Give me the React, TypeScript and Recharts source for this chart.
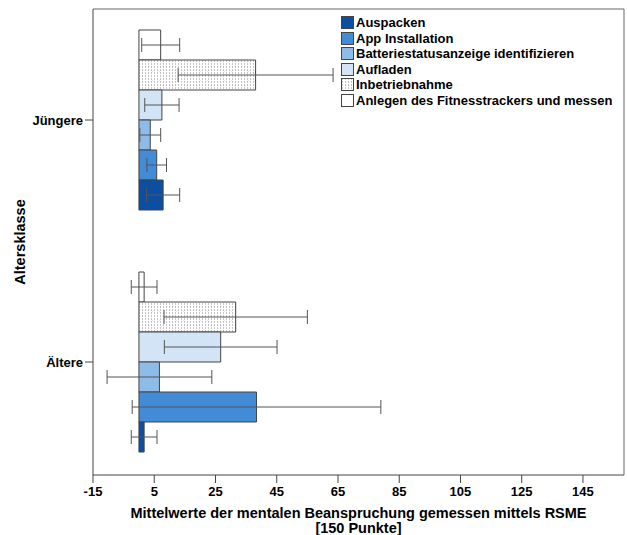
import React from 'react';
import { BarChart, Bar, XAxis, YAxis, ErrorBar, Legend, Label } from 'recharts';

const categories = ['Jüngere', 'Ältere'];
const seriesNames = [
  'Auspacken',
  'App Installation',
  'Batteriestatusanzeige identifizieren',
  'Aufladen',
  'Inbetriebnahme',
  'Anlegen des Fitnesstrackers und messen',
];
const seriesKeys = ['auspacken', 'app', 'batterie', 'aufladen', 'inbetrieb', 'anlegen'];

// means per category (Jüngere, Ältere)
const auspacken = [7.9, 1.7];
const appInstallation = [5.8, 38.4];
const batterie = [3.7, 6.7];
const aufladen = [7.5, 26.7];
const inbetriebnahme = [38.1, 31.6];
const anlegen = [7.1, 1.7];

// error half-widths
const auspackenErr = [5.4, 4.2];
const appInstallationErr = [3.2, 40.6];
const batterieErr = [3.4, 17.1];
const aufladenErr = [5.6, 18.4];
const inbetriebnahmeErr = [25.3, 23.4];
const anlegenErr = [6.2, 4.2];

const xTicks = [-15, 5, 25, 45, 65, 85, 105, 125, 145];
const xDomain = [-15, 158.4];

const seriesValues = [auspacken, appInstallation, batterie, aufladen, inbetriebnahme, anlegen];
const seriesErrors = [auspackenErr, appInstallationErr, batterieErr, aufladenErr, inbetriebnahmeErr, anlegenErr];
const seriesFills = ['#0B4EA2', '#428BD6', '#8FBBE8', '#D3E4F7', 'url(#dotsPattern)', '#FFFFFF'];

const data = categories.map((c, i) => {
  const row: any = { group: c };
  seriesKeys.forEach((k, s) => {
    row[k] = seriesValues[s][i];
    row[k + 'Err'] = seriesErrors[s][i];
  });
  return row;
});

const FONT = '"Liberation Sans", Arial, sans-serif';
const tickStyle = { fontFamily: FONT, fontWeight: 700, fontSize: 13, fill: '#000' };
const AXIS = '#444';

const renderYTitle = (props: any) => {
  const vb = props.viewBox || { x: 0, y: 9, width: 93, height: 466 };
  const x = vb.x + 20;
  const y = vb.y + vb.height / 2;
  return (
    <text
      x={x}
      y={y}
      transform={`rotate(-90 ${x} ${y})`}
      textAnchor="middle"
      dominantBaseline="central"
      style={{ fontFamily: FONT, fontWeight: 700, fontSize: 14.5, fill: '#000' }}
    >
      Altersklasse
    </text>
  );
};

const renderXTitle = (props: any) => {
  const vb = props.viewBox || { x: 93, y: 475, width: 531, height: 60 };
  const x = vb.x + vb.width / 2;
  const st = { fontFamily: FONT, fontWeight: 700, fontSize: 14.5, fill: '#000' };
  return (
    <g>
      <text x={x} y={vb.y + 43} textAnchor="middle" style={st}>
        Mittelwerte der mentalen Beanspruchung gemessen mittels RSME
      </text>
      <text x={x} y={vb.y + 58} textAnchor="middle" style={st}>
        [150 Punkte]
      </text>
    </g>
  );
};

const Swatch = ({ idx }: { idx: number }) => {
  const pid = 'legendDots' + idx;
  return (
    <svg width={13} height={13} style={{ display: 'block', flex: '0 0 auto' }}>
      <defs>
        <pattern id={pid} width={3} height={3} patternUnits="userSpaceOnUse">
          <rect x={0} y={0} width={3} height={3} fill="#fff" />
          <rect x={1} y={0} width={1} height={2} fill="#c4c4c4" />
        </pattern>
      </defs>
      <rect
        x={0.5}
        y={0.5}
        width={12}
        height={12}
        fill={seriesFills[idx].startsWith('url') ? `url(#${pid})` : seriesFills[idx]}
        stroke={AXIS}
        strokeWidth={1}
      />
    </svg>
  );
};

const renderLegend = () => (
  <div style={{ fontFamily: FONT, fontWeight: 700, fontSize: 13, color: '#000' }}>
    {seriesNames.map((n, i) => (
      <div key={n} style={{ display: 'flex', alignItems: 'center', height: 15.5, whiteSpace: 'nowrap' }}>
        <Swatch idx={i} />
        <span style={{ marginLeft: 2, lineHeight: '15.5px' }}>{n}</span>
      </div>
    ))}
  </div>
);

export default function App() {
  const order = seriesKeys.map((_, i) => i).reverse();
  return (
    <div style={{ position: 'absolute', left: 0, top: 0, background: '#fff' }}>
      <BarChart
        width={627}
        height={535}
        data={data}
        layout="vertical"
        margin={{ top: 8, right: 2, bottom: 0, left: 0 }}
        barCategoryGap={31}
        barGap={0}
      >
        <defs>
          <pattern id="dotsPattern" width={3} height={3} patternUnits="userSpaceOnUse">
            <rect x={0} y={0} width={3} height={3} fill="#fff" />
            <rect x={1} y={0} width={1} height={2} fill="#c4c4c4" />
          </pattern>
        </defs>
        <XAxis
          type="number"
          domain={xDomain}
          ticks={xTicks}
          interval={0}
          allowDataOverflow
          height={60}
          tickSize={8}
          tickMargin={4}
          tick={tickStyle}
          axisLine={{ stroke: AXIS }}
          tickLine={{ stroke: AXIS }}
        >
          <Label content={renderXTitle} />
        </XAxis>
        <XAxis
          xAxisId="top"
          orientation="top"
          type="number"
          domain={xDomain}
          allowDataOverflow
          height={1}
          tick={false}
          tickLine={false}
          axisLine={{ stroke: '#666' }}
        />
        <YAxis
          type="category"
          dataKey="group"
          width={93}
          tickSize={8}
          tickMargin={2}
          tick={tickStyle}
          axisLine={{ stroke: AXIS }}
          tickLine={{ stroke: AXIS }}
          padding={{ top: -10, bottom: -8 }}
        >
          <Label content={renderYTitle} />
        </YAxis>
        <YAxis
          yAxisId="right"
          orientation="right"
          type="category"
          dataKey="group"
          width={1}
          tick={false}
          tickLine={false}
          axisLine={{ stroke: '#666' }}
        />
        <Legend
          layout="vertical"
          align="center"
          verticalAlign="middle"
          content={renderLegend}
          wrapperStyle={{ left: 341, top: 15, width: 'auto', height: 'auto' }}
        />
        {order.map((s) => (
          <Bar
            key={seriesKeys[s]}
            dataKey={seriesKeys[s]}
            name={seriesNames[s]}
            fill={seriesFills[s]}
            stroke={AXIS}
            strokeWidth={1}
            isAnimationActive={false}
          >
            <ErrorBar
              dataKey={seriesKeys[s] + 'Err'}
              direction="x"
              width={7}
              stroke="#555"
              strokeWidth={1}
            />
          </Bar>
        ))}
      </BarChart>
    </div>
  );
}
